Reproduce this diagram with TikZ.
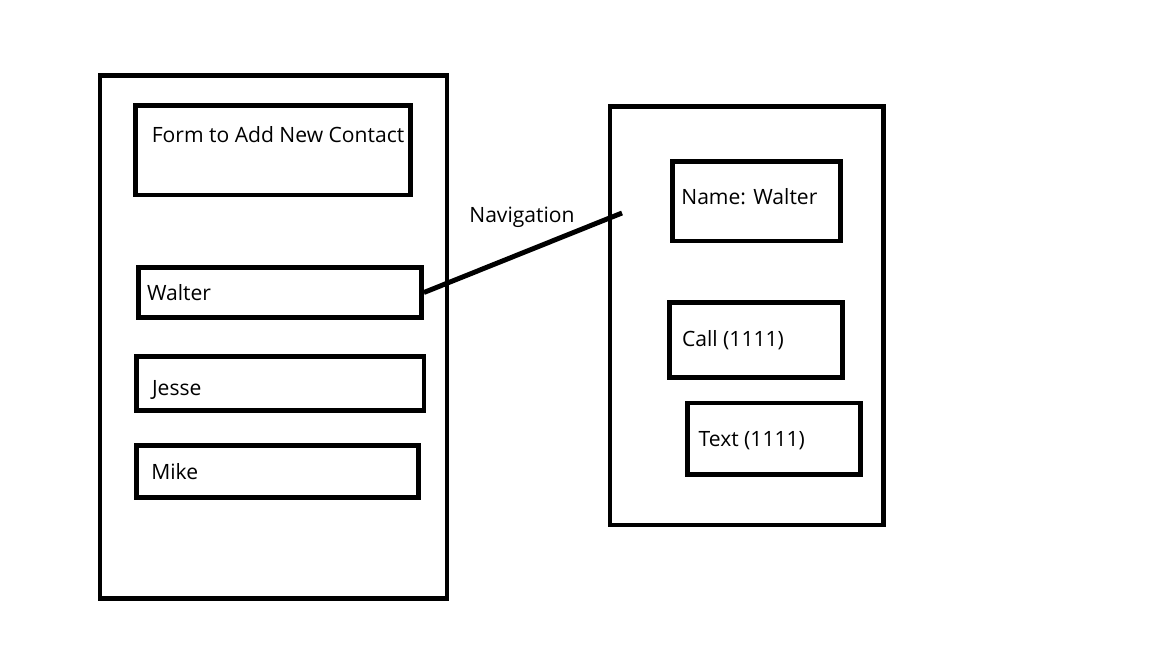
\documentclass[tikz,border=0pt]{standalone}
\usepackage{fontspec}
\setmainfont{Open Sans}
\begin{document}
\begin{tikzpicture}[x=0.02cm,y=-0.02cm,
  box/.style={rectangle,draw=black,line width=2.8pt,inner sep=0pt},
  txt/.style={anchor=base west,inner sep=0pt,font=\fontsize{12}{14}\selectfont}]
\useasboundingbox (0,0) rectangle (1152,648);
% contact list screen
\node[box,minimum width=6.94cm,minimum height=10.46cm] (listscreen) at (273.5,337) {};
\node[box,minimum width=5.5cm,minimum height=1.79cm] (form) at (273,150.25) {};
\node[box,minimum width=5.66cm,minimum height=1cm] (walter) at (280,292.5) {};
\node[box,minimum width=5.75cm,minimum height=1.08cm] (jesse) at (280.25,383.5) {};
\node[box,minimum width=5.64cm,minimum height=1.04cm] (mike) at (277.5,471.5) {};
\node[txt] (formtxt) at (151.5,142.7) {Form to Add New Contact};
\node[txt] (waltertxt) at (146.7,300) {Walter};
\node[txt] (jessetxt) at (151.7,395.7) {Jesse};
\node[txt] (miketxt) at (151,479) {Mike};
% detail screen
\node[box,minimum width=5.47cm,minimum height=8.37cm] (detailscreen) at (746.75,315.75) {};
\node[box,minimum width=3.36cm,minimum height=1.59cm] (name) at (756.5,201.25) {};
\node[box,minimum width=3.46cm,minimum height=1.5cm] (call) at (756,340) {};
\node[box,minimum width=3.46cm,minimum height=1.43cm] (text) at (774,438.75) {};
\node[txt] (nametxt) at (681,205) {Name: Walter};
\node[txt] (calltxt) at (681.7,346) {Call (1111)};
\node[txt] (texttxt) at (698.3,446.7) {Text (1111)};
% navigation
\coordinate (navend) at (622,213);
\draw[line width=2.8pt] (walter.east) -- (navend);
\node[txt] (navtxt) at (469,222.7) {Navigation};
\end{tikzpicture}
\end{document}
